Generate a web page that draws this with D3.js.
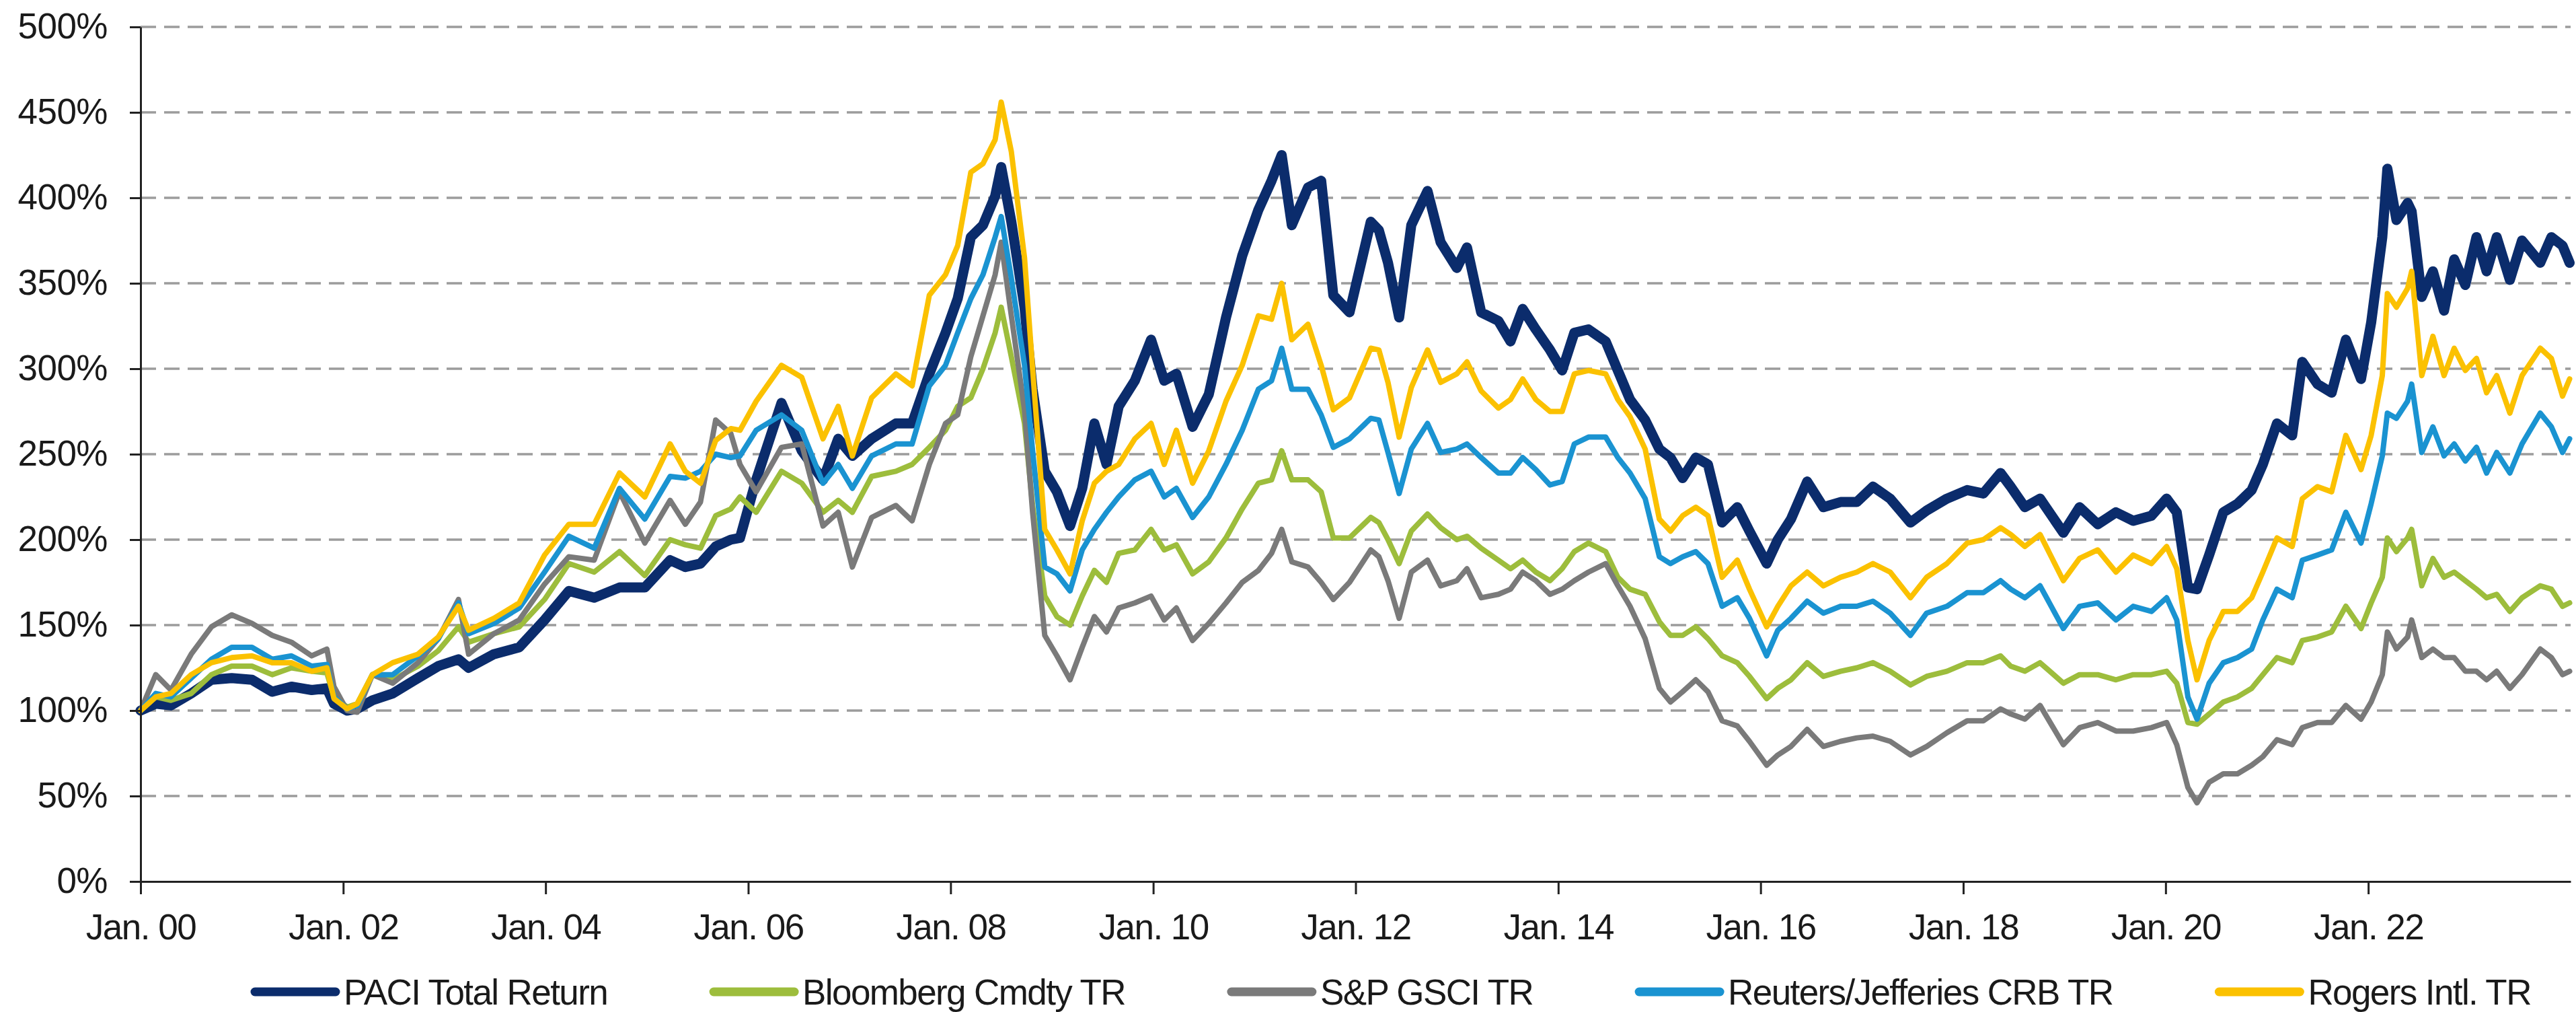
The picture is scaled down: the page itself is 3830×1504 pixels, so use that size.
<!DOCTYPE html>
<html>
<head>
<meta charset="utf-8">
<script src="https://d3js.org/d3.v7.min.js"></script>
<style>
  body { margin: 0; background: #fff; }
  svg text { font-family: "Liberation Sans", Arial, sans-serif; fill: #1a1a1a; }
</style>
</head>
<body>
<div id="chart"></div>
<script>
// time points in decimal years since Jan 2000
var t = [0, 0.15, 0.30, 0.50, 0.70, 0.90, 1.10, 1.30, 1.49, 1.69, 1.84, 1.91, 2.04, 2.14, 2.29, 2.49, 2.74, 2.94, 3.14, 3.24, 3.49, 3.74, 3.99, 4.23, 4.48, 4.73, 4.98, 5.23, 5.38, 5.53, 5.68, 5.83,
  5.92, 6.08, 6.33, 6.53, 6.74, 6.89, 7.03, 7.22, 7.46, 7.62, 7.79, 7.95, 8.07, 8.20, 8.32, 8.44, 8.50, 8.60, 8.73, 8.81, 8.93, 9.05, 9.18, 9.30, 9.42, 9.54, 9.66, 9.82, 9.98, 10.11, 10.23, 10.39, 10.55, 10.72, 10.88, 11.04, 11.17, 11.27, 11.37, 11.53, 11.66, 11.78, 11.94, 12.15,
  12.23, 12.32, 12.43, 12.55, 12.71, 12.84, 13.00, 13.10, 13.24, 13.41, 13.53, 13.65, 13.78, 13.92, 14.04, 14.16, 14.30, 14.47, 14.59, 14.71, 14.86, 15.00, 15.11, 15.23, 15.36, 15.48, 15.62, 15.77, 15.89, 16.06, 16.17, 16.30, 16.46, 16.62, 16.79, 16.95, 17.11, 17.28, 17.48, 17.64, 17.84, 18.04, 18.20, 18.37,
  18.47, 18.61, 18.76, 18.99, 19.15, 19.33, 19.51, 19.68, 19.86, 20.01, 20.11, 20.22, 20.31, 20.43, 20.57, 20.71, 20.85, 20.96, 21.10, 21.25, 21.35, 21.50, 21.64, 21.78, 21.93, 22.03, 22.14, 22.19, 22.28, 22.39, 22.43, 22.53, 22.64, 22.75, 22.85, 22.96, 23.07, 23.17, 23.27, 23.40, 23.52, 23.70, 23.81, 23.92, 23.99];

var paci = [100,104,103,110,118,119,118,111,114,112,113,104,100,101,106,110,119,126,130,125,133,137,153,170,166,172,172,188,184,186,196,200,
  201,235,280,252,235,259,249,259,268,268,297,321,341,377,384,401,418,386,336,288,240,228,208,230,268,244,278,293,317,293,297,266,285,330,366,393,410,425,384,406,410,343,333,386,
  381,362,330,384,404,374,359,371,333,328,316,335,323,311,299,321,323,316,299,282,270,253,248,236,248,244,210,219,205,186,200,212,234,219,222,222,231,224,210,217,224,229,227,239,
  231,219,224,204,219,209,216,211,214,224,216,172,171,191,216,221,229,244,268,261,304,291,286,317,294,327,377,417,387,397,392,342,357,334,364,349,377,357,377,352,375,362,377,372,362];

var bloomberg = [100,108,106,110,121,126,126,121,125,123,122,108,102,104,121,118,126,135,149,140,145,149,165,186,181,193,179,200,197,195,214,218,
  225,216,240,233,216,223,216,237,240,244,254,264,278,283,300,321,336,307,268,220,167,155,150,167,182,175,192,194,206,194,197,180,187,201,218,233,235,252,235,235,228,201,201,213,
  210,200,186,205,215,207,200,202,195,188,183,188,181,176,183,193,198,193,178,171,168,152,144,144,149,142,132,128,120,107,113,118,128,120,123,125,128,123,115,120,123,128,128,132,
  126,123,128,116,121,121,118,121,121,123,116,93,92,98,105,108,113,121,131,128,141,143,146,161,148,163,178,201,193,201,206,173,189,178,181,176,171,166,168,158,166,173,171,161,163];

var gsci = [100,121,112,133,149,156,151,144,140,132,136,114,100,99,121,116,128,142,165,133,145,153,174,190,188,228,198,223,209,222,270,262,
  244,228,254,256,208,216,184,213,220,211,244,268,273,307,331,355,374,331,276,216,144,132,118,137,155,146,160,163,167,153,160,141,151,163,175,182,192,206,187,184,175,165,175,194,
  190,176,154,181,188,173,176,183,166,168,171,181,176,168,171,176,181,186,173,161,142,113,105,111,118,111,94,91,82,68,74,79,89,79,82,84,85,82,74,79,87,94,94,101,
  98,95,103,80,90,93,88,88,90,93,80,55,46,58,63,63,68,73,83,80,90,93,93,103,95,105,121,146,136,143,153,131,136,131,131,123,123,118,123,113,121,136,131,121,123];

var crb = [100,110,108,119,130,137,137,130,132,126,127,108,101,103,121,121,132,142,163,145,151,160,181,202,195,230,212,237,236,240,250,248,
  249,264,273,264,233,244,230,249,256,256,290,302,321,341,355,377,389,353,302,252,184,180,170,194,206,216,225,235,240,225,230,213,225,244,264,288,293,312,288,288,273,254,259,271,
  270,251,227,253,268,251,253,256,248,239,239,248,241,232,234,256,260,260,248,239,224,190,186,190,193,186,161,166,154,132,147,154,164,157,161,161,164,157,144,157,161,169,169,176,
  171,166,173,148,161,163,153,161,158,166,153,108,95,116,128,131,136,153,171,166,188,191,194,216,198,221,249,274,271,281,291,251,266,249,256,246,254,239,251,239,256,274,266,251,259];

var rogers = [100,108,110,121,128,131,132,128,128,123,125,107,101,104,121,128,133,143,161,147,154,163,191,209,209,239,225,256,240,233,258,265,
  264,281,302,295,259,278,249,283,297,290,343,355,372,415,420,434,456,427,365,300,206,194,180,211,233,240,244,259,268,244,264,233,252,281,302,331,329,350,317,326,302,276,283,312,
  311,292,260,289,311,292,297,304,287,277,282,294,282,275,275,297,299,297,282,272,253,212,205,214,219,214,178,188,171,149,161,173,181,173,178,181,186,181,166,178,186,198,200,207,
  203,196,203,176,189,194,181,191,186,196,183,141,118,141,158,158,166,181,201,196,224,231,228,261,241,261,296,344,336,347,357,296,319,296,312,299,306,286,296,274,296,312,306,284,294];

var names = ["PACI Total Return", "Bloomberg Cmdty TR", "S&P GSCI TR", "Reuters/Jefferies CRB TR", "Rogers Intl. TR"];
var yTicks = [0, 50, 100, 150, 200, 250, 300, 350, 400, 450, 500];
var xTickYears = [2000, 2002, 2004, 2006, 2008, 2010, 2012, 2014, 2016, 2018, 2020, 2022];

var colors = ["#0b2c6c", "#9dbd3c", "#7a7a7a", "#1a93d1", "#fbc100"];
var widths = [15, 8, 8, 8, 8];

var W = 3830, H = 1504;
var plotLeft = 209, plotRight = 3822, plotTop = 40, plotBottom = 1310;

function toDate(yr) {
  return new Date(Date.UTC(2000, 0, 1) + yr * 365.25 * 864e5);
}

var x = d3.scaleUtc()
  .domain([new Date(Date.UTC(2000, 0, 1)), new Date(Date.UTC(2024, 0, 1))])
  .range([plotLeft, plotRight]);

var y = d3.scaleLinear()
  .domain([0, 500])
  .range([plotBottom, plotTop]);

var svg = d3.select("#chart").append("svg")
  .attr("width", W)
  .attr("height", H);

// dashed gridlines
svg.append("g")
  .selectAll("line")
  .data(yTicks.filter(function(d) { return d > 0; }))
  .enter().append("line")
  .attr("x1", plotLeft).attr("x2", plotRight)
  .attr("y1", function(d) { return y(d); })
  .attr("y2", function(d) { return y(d); })
  .attr("stroke", "#9c9c9c")
  .attr("stroke-width", 3.5)
  .attr("stroke-dasharray", "23,12");

// series lines, legend order = drawing order
var allSeries = [paci, bloomberg, gsci, crb, rogers];
var line = d3.line()
  .x(function(d, i) { return x(toDate(t[i])); })
  .y(function(d) { return y(d); });

svg.append("g")
  .selectAll("path")
  .data(allSeries)
  .enter().append("path")
  .attr("d", function(d) { return line(d); })
  .attr("fill", "none")
  .attr("stroke", function(d, i) { return colors[i]; })
  .attr("stroke-width", function(d, i) { return widths[i]; })
  .attr("stroke-linejoin", "round")
  .attr("stroke-linecap", "round");

// y axis
var yAxis = d3.axisLeft(y)
  .tickValues(yTicks)
  .tickFormat(function(d) { return d + "%"; })
  .tickSizeInner(16)
  .tickSizeOuter(0)
  .tickPadding(33);

var gy = svg.append("g")
  .attr("transform", "translate(" + plotLeft + ",0)")
  .call(yAxis);

// x axis
var xAxis = d3.axisBottom(x)
  .tickValues(xTickYears.map(function(yr) { return new Date(Date.UTC(yr, 0, 1)); }))
  .tickFormat(function(d) { return "Jan. " + d3.utcFormat("%y")(d); })
  .tickSizeInner(19)
  .tickSizeOuter(0)
  .tickPadding(29);

var gx = svg.append("g")
  .attr("transform", "translate(0," + plotBottom + ")")
  .call(xAxis);

[gx, gy].forEach(function(g) {
  g.selectAll(".domain").attr("stroke", "#222").attr("stroke-width", 3);
  g.selectAll(".tick line").attr("stroke", "#222").attr("stroke-width", 3);
  g.selectAll(".tick text")
    .attr("font-size", 53)
    .attr("fill", "#1a1a1a")
    .style("font-family", "'Liberation Sans', Arial, sans-serif");
});
gx.selectAll(".tick text").style("letter-spacing", "-1.5px");
gy.selectAll(".tick text").style("letter-spacing", "-0.5px");

// legend
var legend = svg.append("g");
var lx = 373, ly = 1474;
names.forEach(function(n, i) {
  legend.append("line")
    .attr("x1", lx + 6).attr("x2", lx + 126)
    .attr("y1", ly).attr("y2", ly)
    .attr("stroke", colors[i])
    .attr("stroke-width", 13)
    .attr("stroke-linecap", "round");
  var txt = legend.append("text")
    .attr("x", lx + 138)
    .attr("y", ly + 19)
    .attr("font-size", 53)
    .style("letter-spacing", "-1.6px")
    .text(n);
  lx = lx + 138 + txt.node().getComputedTextLength() + 152;
});
</script>
</body>
</html>
